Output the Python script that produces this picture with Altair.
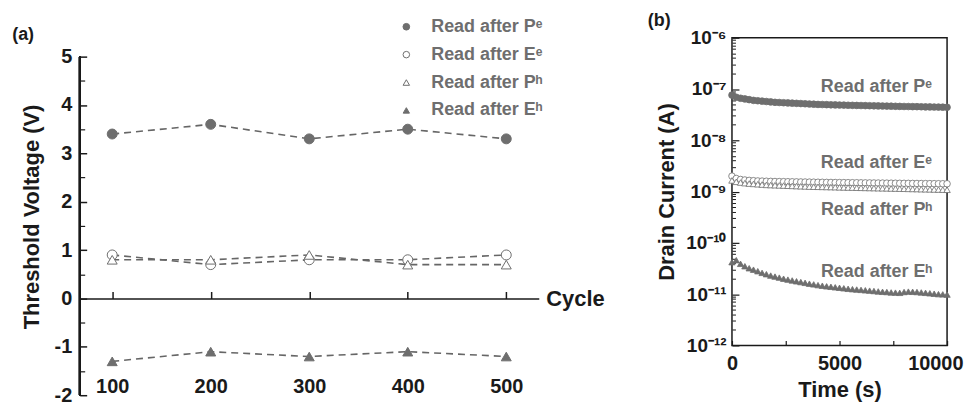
import altair as alt
import pandas as pd

FONT = "Liberation Sans"
GRAY = "#6e6e6e"
INK = "#1a1a1a"

series = ["Read after Pᵉ", "Read after Eᵉ", "Read after Pʰ", "Read after Eʰ"]

# ---- panel (a): threshold voltage vs cycle ----
cycles = [100, 200, 300, 400, 500]
vth_pe = [3.4, 3.6, 3.3, 3.5, 3.3]
vth_ee = [0.9, 0.7, 0.8, 0.8, 0.9]
vth_ph = [0.8, 0.8, 0.9, 0.7, 0.7]
vth_eh = [-1.3, -1.1, -1.2, -1.1, -1.2]
vth_ticks = [-2, -1, 0, 1, 2, 3, 4, 5]
vth_minor = [-1.5, -0.5, 0.5, 1.5, 2.5, 3.5, 4.5]

# ---- panel (b): drain current vs time ----
times = list(range(0, 10001, 200))
id_pe = [v * 1e-8 for v in [
    7.6, 6.9, 6.6, 6.4, 6.2, 6.0, 5.9, 5.8, 5.7, 5.6, 5.5,
    5.45, 5.4, 5.35, 5.3, 5.25, 5.2, 5.15, 5.1, 5.05, 5.0,
    4.98, 4.95, 4.92, 4.9, 4.87, 4.85, 4.82, 4.8, 4.78, 4.76,
    4.74, 4.72, 4.7, 4.68, 4.66, 4.64, 4.62, 4.6, 4.58, 4.56,
    4.55, 4.53, 4.52, 4.5, 4.48, 4.47, 4.45, 4.44, 4.42, 4.4]]
id_ee = [v * 1e-9 for v in [
    2.0, 1.8, 1.72, 1.68, 1.65, 1.63, 1.61, 1.6, 1.59, 1.58, 1.57,
    1.565, 1.56, 1.555, 1.55, 1.545, 1.54, 1.535, 1.53, 1.525, 1.52,
    1.515, 1.51, 1.505, 1.5, 1.497, 1.494, 1.49, 1.487, 1.484, 1.48,
    1.477, 1.474, 1.47, 1.467, 1.464, 1.46, 1.457, 1.454, 1.45, 1.447,
    1.444, 1.44, 1.437, 1.434, 1.43, 1.428, 1.425, 1.422, 1.42, 1.42]]
id_ph = [v * 1e-9 for v in [
    1.65, 1.55, 1.5, 1.46, 1.43, 1.41, 1.39, 1.37, 1.35, 1.34, 1.33,
    1.32, 1.31, 1.3, 1.29, 1.28, 1.27, 1.26, 1.25, 1.245, 1.24,
    1.235, 1.23, 1.225, 1.22, 1.21, 1.205, 1.2, 1.195, 1.19, 1.185,
    1.18, 1.175, 1.17, 1.165, 1.16, 1.155, 1.15, 1.145, 1.14, 1.135,
    1.13, 1.125, 1.12, 1.115, 1.11, 1.105, 1.1, 1.095, 1.09, 1.085]]
id_eh = [v * 1e-11 for v in [
    4.2, 4.6, 3.9, 3.5, 3.2, 3.0, 2.8, 2.6, 2.45, 2.3, 2.2,
    2.1, 2.0, 1.92, 1.85, 1.78, 1.72, 1.66, 1.6, 1.55, 1.5,
    1.46, 1.42, 1.39, 1.36, 1.33, 1.3, 1.27, 1.25, 1.23, 1.21,
    1.19, 1.17, 1.15, 1.13, 1.11, 1.1, 1.08, 1.07, 1.06, 1.1,
    1.12, 1.11, 1.1, 1.08, 1.06, 1.04, 1.02, 1.0, 0.99, 0.98]]
ann_time = [9300, 9300, 9300, 9300]
ann_current = [1.1e-7, 3.6e-9, 4.3e-10, 2.7e-11]
time_ticks = [0, 5000, 10000]
time_minor = [0, 2500, 5000, 7500, 10000]
decades = [1e-12, 1e-11, 1e-10, 1e-9, 1e-8, 1e-7, 1e-6]
log_minor = [m * 10.0 ** e for e in range(-12, -6) for m in range(2, 10)]

# ---- tables ----
rows_a = []
for name, vals in zip(series, [vth_pe, vth_ee, vth_ph, vth_eh]):
    for c, v in zip(cycles, vals):
        rows_a.append({"series": name, "cycle": c, "vth": v})
df_a = pd.DataFrame(rows_a)

rows_b = []
for name, vals in zip(series, [id_pe, id_ee, id_ph, id_eh]):
    for t, v in zip(times, vals):
        rows_b.append({"series": name, "time": t, "current": v})
df_b = pd.DataFrame(rows_b)
df_ann = pd.DataFrame({"series": series, "time": ann_time, "current": ann_current})

shape_scale = alt.Scale(domain=series, range=["circle", "circle", "triangle-up", "triangle-up"])
fill_scale = alt.Scale(domain=series, range=[GRAY, "white", "white", GRAY])
stroke_scale = alt.Scale(domain=series, range=[GRAY, GRAY, GRAY, GRAY])
size_b_scale = alt.Scale(domain=series, range=[45, 40, 38, 42])

# ================= panel (a) =================
UNIT = 340 / 7            # px per volt
EXTRA = 19                # plot area reaches a little above the 5 V line
W1 = 461
H1 = 340 + EXTRA
VTOP = 5 + EXTRA / UNIT
xs1 = alt.Scale(domain=[67, 533], nice=False, zero=False)
ys1 = alt.Scale(domain=[-2, VTOP], nice=False, zero=False)

legend_a = alt.Legend(
    title=None, orient="none", legendX=319, legendY=-20, padding=0,
    symbolSize=90, symbolStrokeWidth=1,
    labelFont=FONT, labelFontSize=18, labelFontWeight="bold", labelColor=GRAY,
    labelOffset=16, rowPadding=10,
)

yaxis_line = alt.Chart(df_a).mark_rule(color=INK, strokeWidth=1.5).encode(
    x=alt.value(0),
    y=alt.Y(datum=-2, scale=ys1, axis=None),
    y2=alt.Y2(datum=5),
)

lines_a = alt.Chart(df_a).mark_line(color="#666666", strokeDash=[7, 5], strokeWidth=1.6).encode(
    x=alt.X("cycle:Q", scale=xs1, axis=alt.Axis(
        orient="bottom", values=cycles, domain=False, ticks=False, tickSize=0,
        labelPadding=-9, labelBaseline="middle", labelFlush=False,
        labelFont=FONT, labelFontSize=20, labelFontWeight="bold", labelColor=INK,
        title=None)),
    y=alt.Y("vth:Q", scale=ys1, axis=alt.Axis(
        orient="left", values=vth_ticks, labelExpr="toString(datum.value)",
        ticks=False, tickSize=0, domain=False, labelPadding=8,
        labelFont=FONT, labelFontSize=20, labelFontWeight="bold", labelColor=INK,
        title="Threshold Voltage (V)", titleFont=FONT, titleFontSize=22,
        titleFontWeight="bold", titleColor=INK, titlePadding=11)),
    detail="series:N",
)

points_a = alt.Chart(df_a).mark_point(filled=True, size=100, strokeWidth=1, opacity=1).encode(
    x=alt.X("cycle:Q", scale=xs1, axis=alt.Axis(
        orient="top", offset=-VTOP * UNIT, values=cycles, domain=True,
        domainColor=INK, domainWidth=1.5, ticks=True, tickSize=7, tickColor=INK,
        tickWidth=1.5, labels=False, title="Cycle", titleX=W1 + 7, titleY=0,
        titleAlign="left", titleBaseline="middle", titleAngle=0,
        titleFont=FONT, titleFontSize=22, titleFontWeight="bold", titleColor=INK)),
    y=alt.Y("vth:Q", scale=ys1, axis=alt.Axis(
        orient="right", offset=-W1, values=vth_ticks, domain=False, ticks=True,
        tickSize=7, tickColor=INK, tickWidth=1.5, labels=False, title=None)),
    shape=alt.Shape("series:N", scale=shape_scale, legend=legend_a),
    fill=alt.Fill("series:N", scale=fill_scale, legend=legend_a),
    stroke=alt.Stroke("series:N", scale=stroke_scale, legend=legend_a),
)

minor_a = alt.Chart(df_a).mark_point(opacity=0).encode(
    x=alt.X("cycle:Q", scale=xs1, axis=None),
    y=alt.Y("vth:Q", scale=ys1, axis=alt.Axis(
        orient="right", offset=-W1, values=vth_minor, domain=False, ticks=True,
        tickSize=5, tickColor=INK, tickWidth=1.2, labels=False, title=None)),
)

panel_a = alt.layer(yaxis_line, lines_a, points_a, minor_a).resolve_axis(
    x="independent", y="independent"
).properties(
    width=W1, height=H1,
    title=alt.TitleParams("(a)", anchor="start", frame="bounds", font=FONT,
                          fontSize=18, fontWeight="bold", color=INK, dx=-8, dy=10),
)

# ================= panel (b) =================
W2, H2 = 216, 309
xs2 = alt.Scale(domain=[0, 10000], nice=False, zero=False)
ys2 = alt.Scale(type="log", domain=[1e-12, 1e-6], nice=False)

sup_expr = ("'10' + ['⁻¹²','⁻¹¹','⁻¹⁰','⁻⁹','⁻⁸','⁻⁷','⁻⁶']"
            "[round(log(datum.value)/LN10) + 12]")

points_b = alt.Chart(df_b).mark_point(filled=True, strokeWidth=0.8, opacity=1).encode(
    x=alt.X("time:Q", scale=xs2, axis=alt.Axis(
        orient="bottom", values=time_ticks, labelExpr="toString(datum.value)",
        domain=False, ticks=False, tickSize=0, labelPadding=8, labelFlush=False,
        labelAlign=alt.condition("datum.value == 10000", alt.value("right"), alt.value("center")),
        labelOffset=alt.condition("datum.value == 10000", alt.value(16), alt.value(0)),
        labelFont=FONT, labelFontSize=20, labelFontWeight="bold", labelColor=INK,
        title="Time (s)", titleFont=FONT, titleFontSize=22, titleFontWeight="bold",
        titleColor=INK, titlePadding=6)),
    y=alt.Y("current:Q", scale=ys2, axis=alt.Axis(
        orient="left", values=decades, labelExpr=sup_expr, domain=False,
        ticks=False, tickSize=0, labelPadding=6,
        labelFont=FONT, labelFontSize=19, labelFontWeight="bold", labelColor=INK,
        title="Drain Current (A)", titleFont=FONT, titleFontSize=22,
        titleFontWeight="bold", titleColor=INK, titlePadding=7)),
    shape=alt.Shape("series:N", scale=shape_scale, legend=None),
    fill=alt.Fill("series:N", scale=fill_scale, legend=None),
    stroke=alt.Stroke("series:N", scale=stroke_scale, legend=None),
    size=alt.Size("series:N", scale=size_b_scale, legend=None),
)

text_b = alt.Chart(df_ann).mark_text(align="right", baseline="middle", font=FONT,
                                     fontSize=18, fontWeight="bold", color=GRAY).encode(
    x=alt.X("time:Q", scale=xs2, axis=alt.Axis(
        orient="top", offset=-H2, values=time_minor, domain=False, ticks=True,
        tickSize=5, tickColor=INK, tickWidth=1.2, labels=False, title=None)),
    y=alt.Y("current:Q", scale=ys2, axis=alt.Axis(
        orient="right", offset=-W2, values=decades, domain=False, ticks=True,
        tickSize=7, tickColor=INK, tickWidth=1.2, labels=False, title=None)),
    text="series:N",
)

minor_b = alt.Chart(df_b).mark_point(opacity=0).encode(
    x=alt.X("time:Q", scale=xs2, axis=None),
    y=alt.Y("current:Q", scale=ys2, axis=alt.Axis(
        orient="right", offset=-W2, values=log_minor, domain=False, ticks=True,
        tickSize=3.5, tickColor=INK, tickWidth=1, labels=False, title=None)),
)

panel_b = alt.layer(points_b, text_b, minor_b).resolve_axis(
    x="independent", y="independent"
).properties(
    width=W2, height=H2,
    view=alt.ViewBackground(stroke=INK, strokeWidth=1.5),
    title=alt.TitleParams("(b)", anchor="start", frame="bounds", font=FONT,
                          fontSize=18, fontWeight="bold", color=INK, dx=-8, offset=-1),
)

chart = alt.hconcat(panel_a, panel_b, spacing=41).properties(
    padding={"left": 3, "top": 2, "right": 0, "bottom": 0}
).configure_view(stroke="transparent").configure_axis(grid=False)

chart.save("out.html", embed_options={"renderer": "svg", "actions": False})
